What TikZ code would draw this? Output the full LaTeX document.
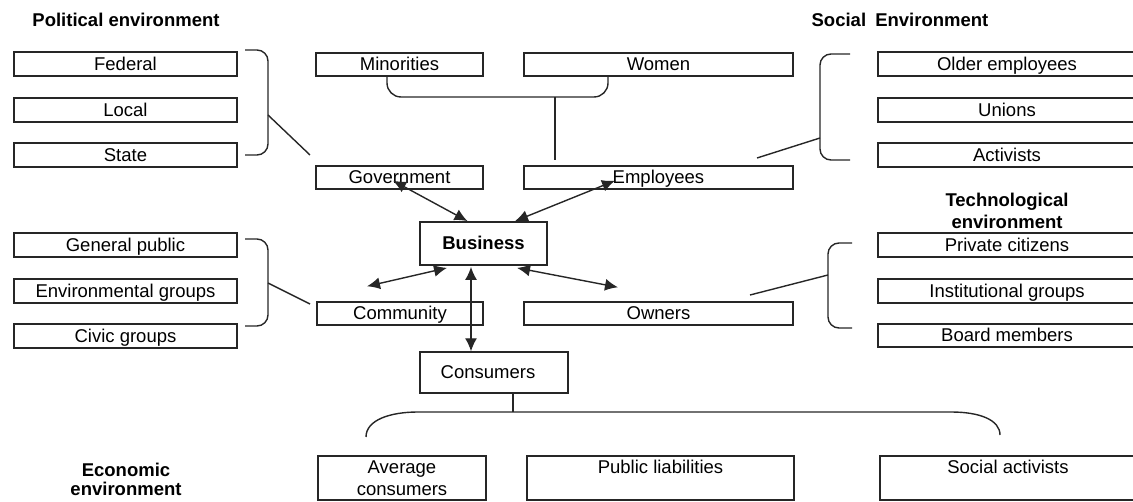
\documentclass[tikz,border=0pt]{standalone}
\usepackage{fontspec}
\setmainfont{Liberation Sans}
\usetikzlibrary{arrows.meta,calc}
\tikzset{
  txt/.style={font=\fontsize{18.5}{21}\selectfont, inner sep=0pt},
  ttl/.style={txt, font=\fontsize{18.5}{21}\selectfont\bfseries, align=center},
  box/.style={txt, draw=black!85, line width=1.4pt, text height=13pt, text depth=0pt},
  lbox/.style={box, minimum width=223pt, minimum height=24pt},
  rbox/.style={box, minimum width=258pt, minimum height=24pt},
  mlbox/.style={box, minimum width=167pt, minimum height=23pt},
  mrbox/.style={box, minimum width=269pt, minimum height=23pt},
  botbox/.style={box, minimum height=44pt, text depth=21pt},
  conn/.style={draw=black!85, line width=1.4pt},
  brk/.style={conn, rounded corners=11pt},
  dbl/.style={conn, {Latex[length=13pt,width=12pt]}-{Latex[length=13pt,width=12pt]}}
}
\begin{document}
\begin{tikzpicture}[x=1pt,y=-1pt]
\useasboundingbox (0,0) rectangle (1133,502);
% titles
\node[ttl, anchor=base] (tpol) at (126,27) {Political environment};
\node[ttl, anchor=base] (tsoc) at (900,27) {Social\hspace{4pt} Environment};
\node[ttl, anchor=base] (ttec1) at (1007,207) {Technological};
\node[ttl, anchor=base] (ttec2) at (1007,229) {environment};
\node[ttl, anchor=base] (teco1) at (126,476) {Economic};
\node[ttl, anchor=base] (teco2) at (126,496) {environment};
% left column
\node[lbox] (federal) at (125.5,64) {Federal};
\node[lbox] (local) at (125.5,110) {Local};
\node[lbox] (state) at (125.5,155) {State};
\node[lbox] (genpub) at (125.5,245) {General public};
\node[lbox] (envgr) at (125.5,291) {Environmental groups};
\node[lbox] (civic) at (125.5,336) {Civic groups};
% middle
\node[mlbox] (minor) at (399.5,64.5) {Minorities};
\node[mrbox] (women) at (658.5,64.5) {Women};
\node[mlbox] (gov) at (399.5,177.5) {Government};
\node[mrbox] (emp) at (658.5,177.5) {Employees};
\node[box, minimum width=127pt, minimum height=43pt, line width=1.8pt, font=\fontsize{18.5}{21}\selectfont\bfseries] (bus) at (483.5,243.5) {Business};
\node[mlbox, minimum width=166pt] (com) at (400,313.5) {Community};
\node[mrbox] (own) at (658.5,313.5) {Owners};
\node[box, minimum width=148pt, minimum height=41pt] (cons) at (494,372.5) {\hspace*{-12pt}Consumers};
% right column
\node[rbox] (older) at (1007,64) {Older employees};
\node[rbox] (unions) at (1007,110) {Unions};
\node[rbox] (activ) at (1007,155) {Activists};
\node[rbox] (priv) at (1007,245) {Private citizens};
\node[rbox] (inst) at (1007,291) {Institutional groups};
\node[rbox, minimum height=23pt] (board) at (1007,335.5) {Board members};
% bottom
\node[botbox, minimum width=168pt] (avg) at (402,478) {\begin{tabular}[t]{@{}c@{}}Average\\consumers\end{tabular}};
\node[botbox, minimum width=267pt] (publ) at (660.5,478) {Public liabilities};
\node[botbox, minimum width=256pt] (soc) at (1008,478) {Social activists};
% brackets
\draw[brk] (245,50) -- (268,50) -- (268,155) -- (245,155);
\coordinate (pb) at (268,115);
\coordinate (pe) at (310,155);
\draw[conn] (pb) -- (pe);
\draw[brk] (245,239) -- (268,239) -- (268,326) -- (245,326);
\coordinate (cb) at (268,283);
\coordinate (ce) at (310,304);
\draw[conn] (cb) -- (ce);
\draw[brk, rounded corners=14pt] (minor.south -| 387,0) -- (387,97) -- (608,97) -- (women.south -| 608,0);
\coordinate (mw) at (555,97);
\coordinate (me) at (555,160);
\draw[conn] (mw) -- (me);
\draw[brk] (850,54) -- (820,54) -- (820,160) -- (850,160);
\coordinate (sb) at (820,138);
\coordinate (se) at (757,158);
\draw[conn] (sb) -- (se);
\draw[brk] (852,243) -- (828,243) -- (828,328) -- (852,328);
\coordinate (tb) at (828,275);
\coordinate (te) at (750,295);
\draw[conn] (tb) -- (te);
% consumers bracket
\coordinate (cj) at (513,412);
\draw[conn] (cons.south -| cj) -- (cj);
\coordinate (bl) at (366,437);
\coordinate (br) at (1000,435);
\draw[conn] (bl) .. controls (366,420) and (390,412) .. (418,412) -- (951,412) .. controls (980,412) and (1000,420) .. (br);
% arrows
\draw[dbl] ($(gov.south)+(-6.5,-9)$) -- ($(bus.north)+(-16,0)$);
\draw[dbl] ($(emp.south)+(-43.5,-9)$) -- ($(bus.north)+(31.5,0)$);
\draw[dbl] ($(bus.south)+(-36.5,2)$) -- ($(com.north)+(-33,-15)$);
\draw[dbl] ($(bus.south)+(33.5,2)$) -- ($(own.north)+(-40.5,-14)$);
\draw[dbl] ($(bus.south)+(-12.5,1)$) -- ($(cons.north)+(-23,0)$);
\end{tikzpicture}
\end{document}
